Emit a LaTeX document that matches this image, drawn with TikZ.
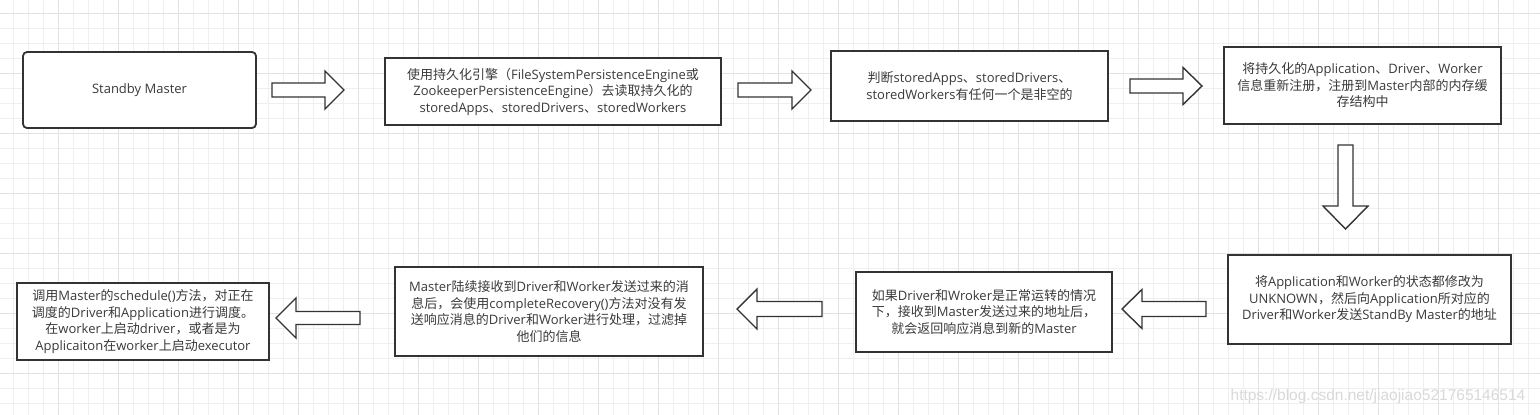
\documentclass[tikz,border=0pt]{standalone}
\usepackage{fontspec}
\setmainfont{Open Sans}
\newfontfamily\cjkfont{Noto Sans CJK SC}
\newfontfamily\wmfont{Liberation Sans}
\XeTeXinterchartokenstate=1
\newXeTeXintercharclass\cjkcls
\makeatletter
\def\setcjkrange#1#2{\count@=#1\relax\loop\XeTeXcharclass\count@=\cjkcls\relax\ifnum\count@<#2\advance\count@ by 1\relax\repeat}
\setcjkrange{"4E00}{"9FFF}
\setcjkrange{"3000}{"303F}
\setcjkrange{"FF00}{"FFEF}
\makeatother
\XeTeXinterchartoks 0 \cjkcls = {\cjkfont}
\XeTeXinterchartoks 4095 \cjkcls = {\cjkfont}
\XeTeXinterchartoks \cjkcls 0 = {\normalfont}
\XeTeXinterchartoks \cjkcls 4095 = {\normalfont}
\definecolor{gridminor}{HTML}{EFEFEF}
\definecolor{gridmajor}{HTML}{E2E2E2}
\definecolor{ink}{HTML}{333333}
\definecolor{txt}{HTML}{3A3A3A}
\definecolor{wm}{HTML}{D9D9D9}
\tikzset{
  stepbox/.style={draw=ink, line width=1.8pt, fill=white, inner sep=0pt, align=center,
    text=txt, font=\fontsize{13}{16.5}\selectfont},
  blockarrow/.style={draw=ink, line width=1.4pt, fill=white, line join=miter},
}
% horizontal block arrow: tail x, tip x, centre y, shaft half, head half, head length (negative for left)
\newcommand\harr[6]{\draw[blockarrow] (#1,{#3-#4}) -- ({#2-#6},{#3-#4}) -- ({#2-#6},{#3-#5}) -- (#2,#3) -- ({#2-#6},{#3+#5}) -- ({#2-#6},{#3+#4}) -- (#1,{#3+#4}) -- cycle;}
% vertical block arrow: tail y, tip y, centre x, shaft half, head half, head length
\newcommand\varr[6]{\draw[blockarrow] ({#3-#4},#1) -- ({#3-#4},{#2-#6}) -- ({#3-#5},{#2-#6}) -- (#3,#2) -- ({#3+#5},{#2-#6}) -- ({#3+#4},{#2-#6}) -- ({#3+#4},#1) -- cycle;}
\begin{document}
\begin{tikzpicture}[x=1pt,y=-1pt]
\useasboundingbox (0,0) rectangle (1540,415);
\fill[white] (0,0) rectangle (1540,415);
% grid
\foreach \i in {0,...,101} \draw[gridminor, line width=1pt] ({13+15*\i},0) -- ({13+15*\i},415);
\foreach \i in {0,...,26} \draw[gridminor, line width=1pt] (0,{13+15*\i}) -- (1540,{13+15*\i});
\foreach \i in {0,...,24} \draw[gridmajor, line width=1pt] ({58+60*\i},0) -- ({58+60*\i},415);
\foreach \i in {0,...,6} \draw[gridmajor, line width=1pt] (0,{13+60*\i}) -- (1540,{13+60*\i});
% boxes
\node[stepbox, rounded corners=4pt, minimum width=233pt, minimum height=76pt] (b1) at (139.5,90) {Standby Master};
\node[stepbox, minimum width=336pt, minimum height=67pt] (b2) at (553,91.5) {使用持久化引擎（FileSystemPersistenceEngine或\\ZookeeperPersistenceEngine）去读取持久化的\\storedApps、storedDrivers、storedWorkers};
\node[stepbox, minimum width=277pt, minimum height=70pt] (b3) at (969.5,86) {判断storedApps、storedDrivers、\\storedWorkers有任何一个是非空的};
\node[stepbox, minimum width=277pt, minimum height=77pt] (b4) at (1362.5,85.5) {将持久化的Application、Driver、Worker\\信息重新注册，注册到Master内部的内存缓\\存结构中};
\node[stepbox, minimum width=283pt, minimum height=89pt] (b5) at (1369.5,299.5) {将Application和Worker的状态都修改为\\UNKNOWN，然后向Application所对应的\\Driver和Worker发送StandBy Master的地址};
\node[stepbox, minimum width=256pt, minimum height=80pt] (b6) at (984,312) {如果Driver和Wroker是正常运转的情况\\下，接收到Master发送过来的地址后，\\就会返回响应消息到新的Master};
\node[stepbox, minimum width=308pt, minimum height=89pt] (b7) at (549,311.5) {Master陆续接收到Driver和Worker发送过来的消\\息后，会使用completeRecovery()方法对没有发\\送响应消息的Driver和Worker进行处理，过滤掉\\他们的信息};
\node[stepbox, minimum width=252pt, minimum height=77pt] (b8) at (143,321.5) {调用Master的schedule()方法，对正在\\调度的Driver和Application进行调度。\\在worker上启动driver，或者是为\\Applicaiton在worker上启动executor};
% block arrows
\harr{272}{344}{90}{7}{19}{19}
\harr{738}{811}{90}{7}{19}{19}
\harr{1130}{1202}{86}{7}{18.5}{19}
\varr{145}{229}{1345.5}{7.5}{22.5}{23}
\harr{1206}{1122}{309}{7.5}{19.5}{-20}
\harr{822}{737}{309}{7.5}{20}{-20}
\harr{360}{276}{318}{6.5}{20}{-20}
% watermark
\node[text=wm, font=\wmfont\fontsize{15.5}{18}\selectfont, inner sep=0pt] (wmk) at (1378,396) {https://blog.csdn.net/jiaojiao521765146514};
\end{tikzpicture}
\end{document}
